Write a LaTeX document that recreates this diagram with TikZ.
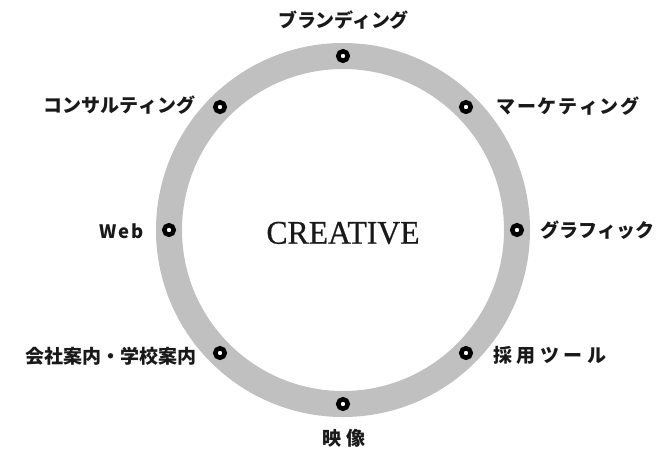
\documentclass[tikz,border=0pt]{standalone}
\usepackage{fontspec}
\setmainfont{Liberation Serif}
\newfontfamily\cre{Liberation Serif}[FakeBold=0.6]
\newfontfamily\jp{Noto Sans CJK JP}
\ExplSyntaxOn
\NewDocumentCommand\spaced{mm}{\seq_set_split:Nnn \l_tmpa_seq {} {#2}\seq_use:Nn \l_tmpa_seq {\hspace{#1}}}
\ExplSyntaxOff
\definecolor{ringgray}{RGB}{192,192,192}
\definecolor{ink}{RGB}{25,25,25}
\begin{document}
\begin{tikzpicture}[x=1pt,y=-1pt,
  dot/.style={circle,draw=black,fill=white,line width=4.5pt,minimum size=9.5pt,inner sep=0pt},
  lab/.style={font=\jp\bfseries\fontsize{19pt}{19pt}\selectfont,text=ink,inner sep=0pt,anchor=center},
  title/.style={font=\cre\fontsize{33pt}{33pt}\selectfont,text=ink,inner sep=0pt,xscale=0.96}]
\useasboundingbox (0,0) rectangle (672,451);
\coordinate (c) at (343,230);
\draw[ringgray,line width=26pt] (c) circle[radius=174];
\node[title] (creative) at (343,233) {CREATIVE};
\node[dot] (d1) at (343,56) {};
\node[dot] (d2) at (466,107) {};
\node[dot] (d3) at (517,230) {};
\node[dot] (d4) at (466,353) {};
\node[dot] (d5) at (343,404) {};
\node[dot] (d6) at (220,353) {};
\node[dot] (d7) at (169,230) {};
\node[dot] (d8) at (220,107) {};
\node[lab] (l1) at (343.5,20) {\spaced{-0.5pt}{ブランディング}};
\node[lab] (l2) at (568,106) {\spaced{1.7pt}{マーケティング}};
\node[lab] (l3) at (597.5,230) {\spaced{0pt}{グラフィック}};
\node[lab] (l4) at (550,355.5) {\spaced{4.5pt}{採用ツール}};
\node[lab] (l5) at (344,438.5) {\spaced{6pt}{映像}};
\node[lab] (l6) at (111,356) {\spaced{0pt}{会社案内・学校案内}};
\node[lab,font=\jp\bfseries\fontsize{18.5pt}{18.5pt}\selectfont] (l7) at (121.5,231.5) {\spaced{2pt}{Web}};
\node[lab] (l8) at (119,105.5) {\spaced{0pt}{コンサルティング}};
\end{tikzpicture}
\end{document}
